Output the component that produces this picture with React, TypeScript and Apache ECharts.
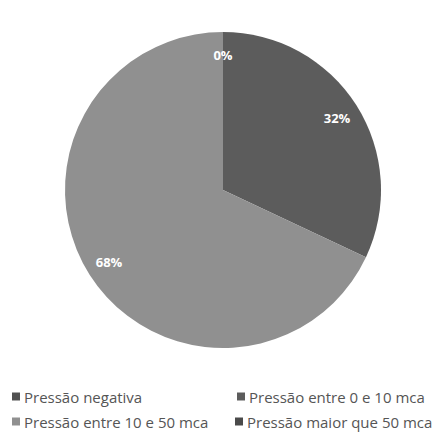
import React, { useEffect, useRef } from "react";
import * as echarts from "echarts";

const categories = [
  "Pressão negativa",
  "Pressão entre 0 e 10 mca",
  "Pressão entre 10 e 50 mca",
  "Pressão maior que 50 mca",
];
const values = [0, 32, 68, 0];
const colors = ["#505050", "#5c5c5c", "#909090", "#4a4a4a"];
const showLabel = [true, true, true, false];

const FONT = "Open Sans";

export default function App() {
  const ref = useRef<HTMLDivElement>(null);
  useEffect(() => {
    if (!ref.current) return;
    const chart = echarts.init(ref.current, null, { renderer: "svg" });
    const legendPos = [
      { left: 4, top: 381 },
      { left: 229, top: 381 },
      { left: 4, top: 406 },
      { left: 227, top: 406 },
    ];
    chart.setOption({
      animation: false,
      backgroundColor: "#ffffff",
      legend: categories.map((name, i) => ({
        data: [name],
        left: legendPos[i].left,
        top: legendPos[i].top,
        padding: 0,
        icon: "rect",
        itemWidth: 8,
        itemHeight: 8,
        itemGap: 4,
        selectedMode: false,
        textStyle: { fontFamily: FONT, fontSize: 15, color: "#555555", padding: [0, 0, 0, -1] },
      })),
      series: [
        {
          type: "pie",
          center: [215, 182],
          radius: 158,
          startAngle: 90,
          clockwise: true,
          label: { show: false },
          labelLine: { show: false },
          silent: true,
          data: categories.map((name, i) => ({
            name,
            value: values[i],
            itemStyle: { color: colors[i] },
          })),
        },
        {
          type: "pie",
          center: [215, 182],
          radius: [106, 158],
          startAngle: 90,
          clockwise: true,
          silent: true,
          itemStyle: { color: "rgba(0,0,0,0)" },
          labelLine: { show: false },
          label: {
            show: true,
            position: "inside",
            formatter: "{c}%",
            color: "#ffffff",
            fontFamily: FONT,
            fontSize: 13,
            fontWeight: "bold",
          },
          data: categories.map((name, i) => ({
            name,
            value: values[i],
            label: { show: showLabel[i] },
          })),
        },
      ],
    });
    return () => chart.dispose();
  }, []);
  return <div ref={ref} style={{ width: 440, height: 432 }} />;
}
